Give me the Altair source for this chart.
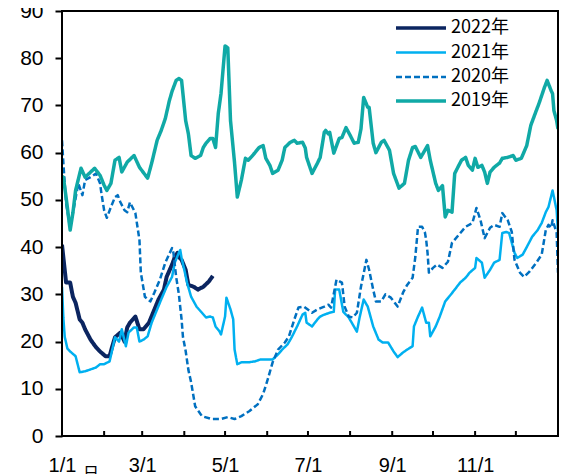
import altair as alt
import pandas as pd

series = ["2022年", "2021年", "2020年", "2019年"]
colors = ["#0b2560", "#00b0f0", "#0070c0", "#10a9a6"]
dashes = [[1, 0], [1, 0], [6, 3], [1, 0]]
widths = [4, 2.5, 2.5, 3.5]

# day-of-year (0 = 1/1) and values
d2022 = [0, 2, 3, 6, 8, 10, 13, 15, 17, 21, 25, 28, 32, 35, 37, 39, 43, 46, 48, 50, 54, 57, 60, 64, 68, 71,
         75, 77, 81, 83, 85, 86, 88, 91, 93, 97, 100, 104, 108, 111]
v2022 = [40.5, 35.2, 32.5, 32.5, 29.5, 28.2, 24.7, 24, 22.6, 20.4, 18.8, 17.9, 16.9, 16.9, 19, 20.9, 21.9, 20,
         23, 24, 25.3, 22.6, 22.6, 24, 26.8, 28.9, 31, 33.7, 36.3, 37.9, 38.8, 37.9, 37.3, 35.2, 32, 31.6, 31,
         31.6, 32.7, 33.9]

d2021 = [0, 1, 2, 4, 6, 10, 13, 17, 21, 25, 28, 31, 35, 37, 39, 42, 44, 47, 49, 53, 55, 57, 60, 63, 66, 70,
         73, 77, 81, 83, 86, 87, 88, 90, 92, 95, 99, 103, 106, 109, 111, 113, 116, 117, 120, 121, 124, 126, 127,
         129, 132, 137, 142, 146, 151, 155, 159, 162, 166, 169, 173, 177, 179, 180, 184, 188, 190, 193, 197,
         200, 201, 204, 207, 211, 214, 217, 219, 222, 225, 229, 233, 236, 240, 244, 247, 251, 254, 258, 259,
         262, 265, 268, 270, 271, 275, 278, 282, 286, 289, 293, 297, 300, 304, 305, 309, 311, 315, 318, 322,
         324, 327, 329, 333, 335, 339, 342, 346, 350, 353, 356, 358, 361, 364, 365]
v2021 = [31.6, 25, 21, 18.5, 17.9, 16.9, 13.5, 13.7, 14.1, 14.5, 15.2, 15.2, 15.8, 18.3, 20.9, 20, 22.6, 19,
         21.9, 23, 23, 20, 20.4, 21.1, 24, 26.8, 28.9, 31.6, 33.7, 36.7, 38.8, 39.4, 37.7, 35.2, 32.5, 29.5,
         27.4, 26.1, 25.1, 25.3, 25.1, 23.2, 22.1, 21.5, 25.3, 29.3, 26.8, 24.7, 18.3, 15.2, 15.6, 15.6, 15.8,
         16.2, 16.2, 16.2, 17.3, 18.3, 19.4, 20.9, 23.2, 25.7, 26.1, 24, 23.2, 24.7, 25.3, 25.7, 26.1, 26.3,
         31, 31, 26.3, 25.1, 23.6, 22.1, 25.1, 28.9, 27.4, 23.2, 20.4, 19.8, 19.8, 17.9, 16.7, 17.7, 18.3, 19,
         23.2, 25.3, 27.2, 24, 24, 21.1, 23.2, 25.3, 28.5, 29.9, 31, 32.5, 33.5, 34.6, 35.6, 37.7, 36.7, 33.5,
         35.2, 36.7, 37.3, 43, 43.2, 43, 38.8, 37.7, 38.4, 40, 42.2, 43.6, 45.1, 47.4, 48.5, 52, 47.8, 43.2]

d2020 = [0, 1, 3, 6, 12, 15, 17, 21, 25, 28, 29, 31, 33, 36, 39, 41, 43, 46, 48, 50, 54, 57, 58, 61, 65, 68,
         72, 76, 81, 82, 84, 86, 88, 89, 91, 93, 95, 98, 103, 110, 117, 122, 127, 132, 138, 144, 148, 151, 155,
         159, 164, 167, 171, 174, 178, 184, 188, 193, 196, 198, 201, 202, 206, 208, 211, 214, 217, 220, 224,
         226, 229, 231, 235, 238, 242, 247, 251, 254, 258, 260, 262, 265, 267, 268, 269, 270, 273, 276, 280,
         284, 287, 292, 297, 302, 304, 305, 308, 311, 315, 318, 322, 324, 328, 331, 333, 337, 340, 344, 349,
         353, 356, 358, 360, 361, 364, 365]
v2020 = [62.6, 57.8, 49.3, 44, 53.5, 51, 54.2, 54.8, 55.6, 53.5, 51.4, 47.8, 46.2, 48.5, 50.6, 51, 49.5, 47.8,
         47.4, 49.5, 47.2, 41.5, 34.6, 29.5, 28.5, 30.4, 33.1, 36.7, 39.8, 38.8, 33.7, 30, 24.7, 21, 18, 14,
         11.4, 6.3, 4.2, 3.6, 3.6, 4, 3.6, 4.2, 5.3, 6.7, 8.9, 11.6, 15.6, 18.3, 19.8, 21.1, 24.7, 27.2, 27.4,
         26.1, 26.8, 27.4, 27.8, 27.2, 31.6, 33.1, 32.5, 27.4, 25.3, 25.1, 26.1, 31.6, 37.3, 35.2, 31, 28.5,
         28.5, 30, 29.3, 27.4, 30.4, 32, 33.5, 37.9, 44.3, 44.3, 43.2, 41.5, 38.8, 34.6, 35.6, 36.3, 35.6, 36.9,
         40.9, 42.6, 44.3, 45.1, 47.2, 48.3, 45.7, 41.9, 44.1, 44.7, 44.3, 47.2, 45.7, 43.2, 37.3, 34.6, 33.7,
         34.8, 36.7, 38.4, 43.6, 44.7, 44.1, 45.7, 43, 34.6]

d2019 = [0, 1, 3, 6, 8, 10, 14, 17, 20, 24, 28, 31, 33, 36, 39, 42, 44, 48, 53, 57, 63, 66, 70, 73, 76, 79,
         81, 84, 86, 88, 91, 93, 95, 98, 102, 104, 106, 109, 111, 113, 115, 117, 120, 122, 124, 127, 129, 132,
         135, 137, 139, 142, 145, 148, 150, 153, 155, 159, 162, 164, 168, 171, 173, 177, 179, 180, 184, 188,
         190, 193, 194, 196, 197, 200, 204, 206, 209, 212, 215, 218, 220, 222, 225, 226, 229, 231, 235, 237,
         241, 244, 248, 252, 255, 258, 260, 264, 269, 271, 275, 277, 280, 282, 284, 287, 289, 292, 294, 297,
         299, 302, 304, 306, 309, 311, 313, 315, 318, 322, 324, 328, 332, 334, 338, 342, 345, 349, 351, 355,
         357, 360, 361, 362, 364, 365]
v2019 = [55, 54.8, 50.6, 43.6, 47.2, 52, 56.7, 54.8, 55.6, 56.7, 55.2, 53.1, 52, 53.5, 58.4, 59, 55.9, 58,
         59.4, 56.9, 54.6, 57.8, 62.6, 64.7, 67.2, 71, 73, 75.3, 75.7, 75.3, 66.8, 64, 59.4, 58.8, 59.4, 61.1,
         62, 63, 63, 61.1, 68.3, 72.5, 82.6, 82.2, 66.8, 57.8, 50.6, 54.2, 58.8, 58.4, 59, 60, 61.1, 61.5, 58.8,
         57.3, 55.6, 56.3, 58.4, 61.1, 62.2, 62.6, 62, 62.2, 61, 59, 55.6, 57.8, 59, 64.3, 64.7, 64, 64.3, 59.9,
         63, 63.2, 65.3, 63.7, 62, 62.2, 65, 71.7, 69.6, 69.6, 62, 60, 62.2, 62.6, 60.5, 55.6, 52.5, 53.5, 58.4,
         61.1, 61.3, 59, 61.5, 58.4, 53.5, 52, 53, 46.4, 47.8, 47.4, 55.6, 57.3, 58.4, 59, 57.3, 56.3, 58.8,
         56.9, 57.3, 55.9, 53.5, 55.9, 56.9, 57.8, 58.8, 59, 59.4, 58.4, 58.8, 61.5, 65.8, 68.9, 70.4, 73.8,
         75.3, 73.1, 72.5, 68.9, 66.8, 65]

month_starts = [0, 31, 59, 90, 120, 151, 181, 212, 243, 273, 304, 334]
label_days = [0, 59, 120, 181, 243, 304]
label_text = ["1/1", "3/1", "5/1", "7/1", "9/1", "11/1"]
x_range = [0, 365]
y_range = [0, 90]

W, H = 496, 425

rows = []
series_data = [d2022, v2022], [d2021, v2021], [d2020, v2020], [d2019, v2019]
for i, (name, (dd, vv)) in enumerate(zip(series, series_data)):
    for d, v in zip(dd, vv):
        rows.append({"series": name, "day": d, "value": v, "ord": i,
                     "col": colors[i], "sw": widths[i]})
df = pd.DataFrame(rows)

label_expr = " : ".join(
    [f"datum.value == {d} ? '{t}'" for d, t in zip(label_days, label_text)]) + " : ''"

x_scale = alt.Scale(domain=x_range, nice=False, zero=False)
y_scale = alt.Scale(domain=y_range, nice=False)

lines = alt.Chart(df).mark_line(clip=True, strokeJoin="round").encode(
    x=alt.X("day:Q", scale=x_scale,
            axis=alt.Axis(values=label_days, labelExpr=label_expr, ticks=False, domain=False,
                          grid=False, labelFontSize=20, labelFont="Liberation Sans",
                          labelColor="#000000", labelPadding=19, labelFlush=False, title=None)),
    y=alt.Y("value:Q", scale=y_scale,
            axis=alt.Axis(values=list(range(0, 91, 10)), grid=False, domain=False,
                          tickSize=7, tickWidth=2, tickColor="#000000",
                          labelFontSize=21, labelFont="Liberation Sans", labelColor="#000000",
                          labelPadding=12, labelFlush=False, title=None)),
    color=alt.Color("col:N", scale=None),
    strokeDash=alt.StrokeDash("series:N", scale=alt.Scale(domain=series, range=dashes), legend=None),
    strokeWidth=alt.StrokeWidth("sw:Q", scale=None),
    detail="series:N",
    order="ord:Q",
)

# inward month ticks on the x axis
ticks_df = pd.DataFrame({"day": month_starts})
xticks = alt.Chart(ticks_df).mark_rule(color="#000000", strokeWidth=2).encode(
    x=alt.X("day:Q", scale=x_scale),
    y=alt.value(H),
    y2=alt.value(H - 5),
)

# plot frame: a stroked rectangle over the full scale domains
frame = alt.Chart(pd.DataFrame({"k": [0]})).mark_rect(
    filled=False, stroke="#000000", strokeWidth=2
).encode(
    x=alt.datum(x_range[0]), x2=alt.datum(x_range[1]),
    y=alt.datum(y_range[0]), y2=alt.datum(y_range[1]),
)
frame_v = alt.Chart(pd.DataFrame({"day": x_range})).mark_rule(color="#000000", strokeWidth=2).encode(
    x=alt.X("day:Q", scale=x_scale),
    y=alt.datum(y_range[0]), y2=alt.datum(y_range[1]),
)
frame_h = alt.Chart(pd.DataFrame({"value": y_range})).mark_rule(color="#000000", strokeWidth=2).encode(
    y=alt.Y("value:Q", scale=y_scale),
    x=alt.datum(x_range[0]), x2=alt.datum(x_range[1]),
)

# legend (drawn as marks, inside the plot at the top right)
leg_df = pd.DataFrame({"series": series, "col": colors, "sw": [3.5, 2.5, 2.5, 3.5],
                       "ly": [17, 41.5, 66, 90]})
leg_lines = alt.Chart(leg_df).mark_rule().encode(
    x=alt.value(334), x2=alt.value(384),
    y=alt.Y("ly:Q", scale=None),
    color=alt.Color("col:N", scale=None),
    strokeDash=alt.StrokeDash("series:N", scale=alt.Scale(domain=series, range=dashes), legend=None),
    strokeWidth=alt.StrokeWidth("sw:Q", scale=None),
)
leg_text = alt.Chart(leg_df).mark_text(
    align="left", baseline="middle", fontSize=18, font="Noto Sans CJK JP", color="#000000"
).encode(x=alt.value(389), y=alt.Y("ly:Q", scale=None), text="series:N")

note = alt.Chart(pd.DataFrame({"t": ["日"]})).mark_text(
    font="Noto Sans CJK JP", fontSize=16, baseline="top", align="center", color="#000000"
).encode(text="t:N", x=alt.value(29), y=alt.value(H + 30))

chart = alt.layer(lines, xticks, leg_lines, leg_text, note, frame_v, frame_h, frame).properties(
    width=W, height=H,
    autosize=alt.AutoSizeParams(type="none"),
    padding={"left": 54, "top": 3, "right": 2, "bottom": 38},
).configure_view(stroke="#000000", strokeWidth=2, fill="#ffffff")

chart.save("out.html", embed_options={"renderer": "svg", "actions": False})
